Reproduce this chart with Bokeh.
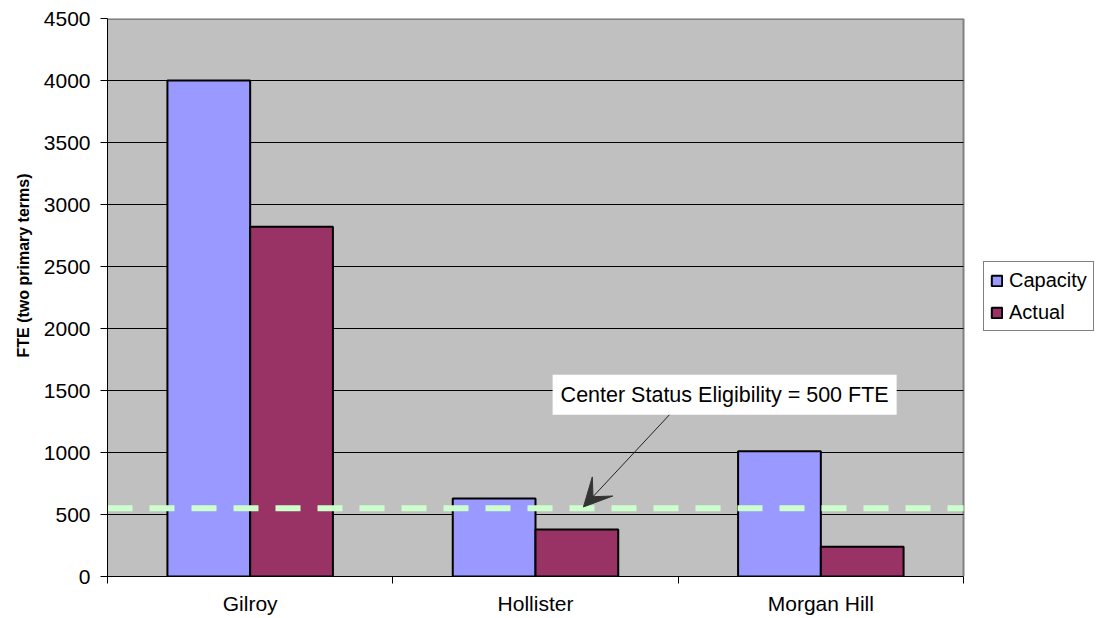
from bokeh.plotting import figure
from bokeh.models import (ColumnDataSource, Range1d, FixedTicker, Title, BoxAnnotation,
                          Arrow, VeeHead, Label, Legend, LegendItem)
from bokeh.transform import dodge
from bokeh.embed import file_html
from bokeh.resources import INLINE

categories = ["Gilroy", "Hollister", "Morgan Hill"]
capacity = [4000, 630, 1010]
actual = [2820, 380, 240]
threshold = 550
y_ticks = [0, 500, 1000, 1500, 2000, 2500, 3000, 3500, 4000, 4500]
annotation_text = "Center Status Eligibility = 500 FTE"
y_title = "FTE (two primary terms)"

FONT = "Liberation Sans"
W, H = 1097, 618
LEFT, TOP, BOTTOM = 107, 18, 42
PLOT_W = 856          # width of the grey plot area in pixels

n = len(categories)
centers = [i + 0.5 for i in range(n)]
bounds = list(range(n + 1))
y_max = y_ticks[-1]

src = ColumnDataSource(dict(cat=categories, pos=centers, capacity=capacity, actual=actual))
grid_src = ColumnDataSource(dict(y=y_ticks[1:-1]))

# the frame extends to the right edge so the legend can sit beside the grey area
x_end = n * (W - LEFT) / PLOT_W
p = figure(width=W, height=H, output_backend="svg", toolbar_location=None,
           x_range=Range1d(0, x_end), y_range=Range1d(0, y_max),
           min_border_left=LEFT, min_border_right=0, min_border_top=TOP,
           min_border_bottom=BOTTOM)

p.border_fill_color = "white"
p.background_fill_color = "white"
p.outline_line_color = None
p.xgrid.grid_line_color = None
p.ygrid.grid_line_color = None

# grey plot area with its grey top/right border
p.add_layout(BoxAnnotation(left=0, right=n, bottom=0, top=y_max, fill_color="#C0C0C0",
                           fill_alpha=1, line_color=None, level="underlay"))
p.segment(x0=0, x1=n, y0=y_max, y1=y_max, line_color="#808080", line_width=3)
p.segment(x0=n, x1=n, y0=0, y1=y_max, line_color="#808080", line_width=2)

# gridlines limited to the grey area
p.segment(x0=0, x1=n, y0="y", y1="y", source=grid_src, line_color="black", line_width=1)

bw = 0.29
r1 = p.vbar(x=dodge("pos", -bw / 2), top="capacity", width=bw, source=src,
            fill_color="#9999FF", line_color="black", line_width=2)
r2 = p.vbar(x=dodge("pos", bw / 2), top="actual", width=bw, source=src,
            fill_color="#993366", line_color="black", line_width=2)

# threshold line (dashed, light green)
p.segment(x0=0, x1=n, y0=threshold, y1=threshold, line_color="#CCFFCC",
          line_width=6, line_dash="25 17")

# y axis
yax = p.yaxis[0]
yax.ticker = FixedTicker(ticks=y_ticks)
yax.major_tick_out = 7
yax.major_tick_in = 0
yax.minor_tick_line_color = None
yax.major_tick_line_color = "black"
yax.axis_line_color = "black"
yax.major_label_text_font = FONT
yax.major_label_text_font_size = "21px"
yax.major_label_text_color = "black"
yax.major_label_standoff = 10

# y title in the left side panel, positioned like the original
p.add_layout(Title(text=y_title, align="left", offset=219, standoff=18,
                   text_font=FONT, text_font_size="16px", text_font_style="bold",
                   text_color="black"), "left")

# x axis: labels at category centres, ticks at boundaries, only under the grey area
xax = p.xaxis[0]
xax.bounds = (0, n)
xax.ticker = FixedTicker(ticks=centers, minor_ticks=bounds)
xax.major_label_overrides = {c: name for c, name in zip(centers, categories)}
xax.major_tick_line_color = None
xax.major_tick_out = 0
xax.major_tick_in = 0
xax.minor_tick_line_color = "black"
xax.minor_tick_out = 7
xax.minor_tick_in = 0
xax.axis_line_color = "black"
xax.major_label_text_font = FONT
xax.major_label_text_font_size = "21px"
xax.major_label_text_color = "black"
xax.major_label_standoff = 8

# annotation
p.add_layout(Arrow(x_start=1.973, y_start=1313, x_end=1.668, y_end=561,
                   line_color="#222222", line_width=1,
                   end=VeeHead(size=28, fill_color="#333333", line_color="#333333")))
p.add_layout(Label(x=1.56, y=1466, text=annotation_text,
                   text_font=FONT, text_font_size="21.5px", text_color="black",
                   text_align="left", text_baseline="middle",
                   background_fill_color="white", padding=8))

legend = Legend(items=[LegendItem(label="Capacity", renderers=[r1]),
                       LegendItem(label="Actual", renderers=[r2])],
                location=(876, 245), orientation="vertical")
legend.label_text_font = FONT
legend.label_text_font_size = "20px"
legend.label_text_color = "black"
legend.glyph_width = 13
legend.glyph_height = 13
legend.label_standoff = 6
legend.label_height = 24
legend.spacing = 8
legend.padding = 6
legend.margin = 0
legend.border_line_color = "black"
legend.border_line_width = 1
legend.background_fill_color = "white"
legend.background_fill_alpha = 1
p.add_layout(legend, "center")

open("out.html", "w").write(file_html(p, INLINE))
